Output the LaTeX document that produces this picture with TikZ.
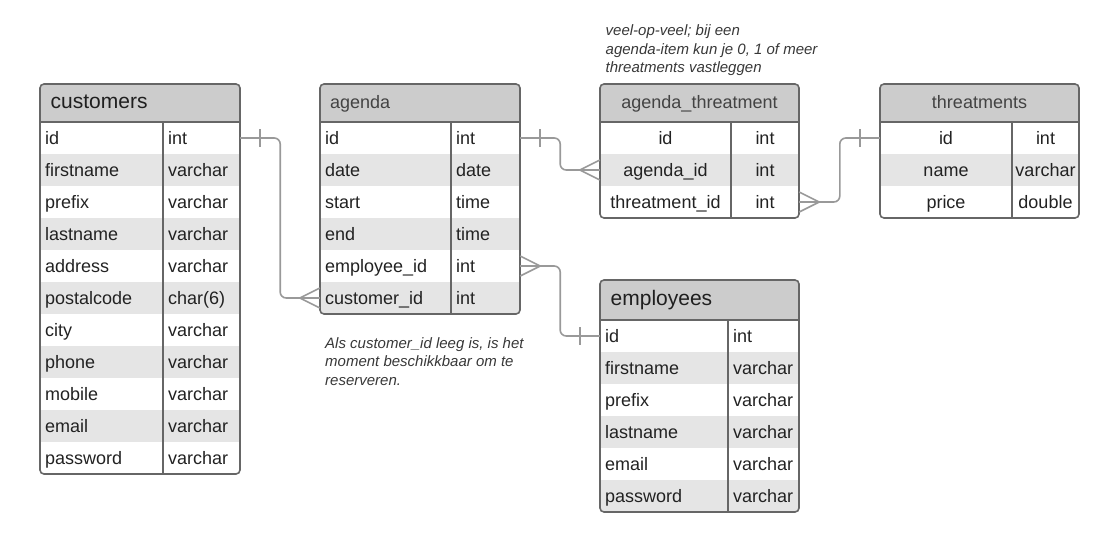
\documentclass[tikz,border=0pt]{standalone}
\usepackage{fontspec}
\setmainfont{Liberation Sans}
\usetikzlibrary{calc}
\definecolor{hdrgray}{HTML}{CCCCCC}
\definecolor{stripegray}{HTML}{E5E5E5}
\definecolor{bordergray}{HTML}{666666}
\definecolor{conngray}{HTML}{999999}
\definecolor{txt}{HTML}{222222}

% frame: #1 left #2 top #3 right #4 header bottom #5 nrows #6 divider x
\newcommand{\erframe}[6]{%
  \begin{scope}
    \clip[rounded corners=4pt] (#1,#2) rectangle (#3,{#4+32*#5});
    \fill[hdrgray] (#1,#2) rectangle (#3,#4);
    \foreach \k in {1,...,#5} {
      \ifodd\k\else
        \fill[stripegray] (#1,{#4+32*(\k-1)}) rectangle (#3,{#4+32*\k});
      \fi
    }
  \end{scope}
  \draw[tline] (#1,#4) -- (#3,#4);
  \draw[tline] (#6,#4) -- (#6,{#4+32*#5});
  \draw[tline, rounded corners=4pt] (#1,#2) rectangle (#3,{#4+32*#5});
}
% rows: #1 name #2 left #3 divider #4 right #5 header bottom #6 mode l/c #7 list
\newcommand{\errows}[7]{%
  \foreach \f/\t [count=\i] in {#7} {
    \pgfmathsetmacro\yy{#5+32*\i-16}
    \node[rowbox, minimum width={#4-#2}] (#1-\i) at ({(#2+#4)/2},\yy) {};
    \if#6l
      \node[cell, anchor=west] (#1-f\i) at ({#2+5},\yy) {\f};
      \node[cell, anchor=west] (#1-t\i) at ({#3+5},\yy) {\t};
    \else
      \node[cell] (#1-f\i) at ({(#2+#3)/2},\yy) {\f};
      \node[cell] (#1-t\i) at ({(#3+#4)/2},\yy) {\t};
    \fi
  }%
}

\begin{document}
\begin{tikzpicture}[x=1pt,y=-1pt,
  tline/.style={draw=bordergray, line width=1.6pt},
  conn/.style={draw=conngray, line width=1.6pt},
  rowbox/.style={inner sep=0pt, minimum height=32pt, draw=none},
  cell/.style={inner sep=0pt, text=txt, font=\fontsize{18}{21}\selectfont, text height=15pt, text depth=3pt},
  bighdr/.style={inner sep=0pt, anchor=west, text=black!88, font=\fontsize{21}{24}\selectfont, text height=15pt, text depth=5pt},
  smhdr/.style={inner sep=0pt, text=txt!85, font=\fontsize{18}{21}\selectfont, text height=14pt, text depth=4pt},
  note/.style={inner sep=0pt, anchor=north west, align=left, text=txt!90, font=\fontsize{15}{18.7}\selectfont\itshape}]
\useasboundingbox (0,0) rectangle (1120,552);

% customers
\erframe{40}{84}{240}{122}{11}{163}
\node[bighdr] (cust-h) at (50.5,103) {customers};
\errows{cust}{40}{163}{240}{122}{l}{id/int, firstname/varchar, prefix/varchar, lastname/varchar, address/varchar, postalcode/char(6), city/varchar, phone/varchar, mobile/varchar, email/varchar, password/varchar}

% agenda
\erframe{320}{84}{520}{122}{6}{451}
\node[smhdr, anchor=west] (ag-h) at (330,103) {agenda};
\errows{ag}{320}{451}{520}{122}{l}{id/int, date/date, start/time, end/time, employee\_id/int, customer\_id/int}

% agenda_threatment
\erframe{600}{84}{799}{122}{3}{731}
\node[smhdr] (at-h) at (699.5,103) {agenda\_threatment};
\errows{at}{600}{731}{799}{122}{c}{id/int, agenda\_id/int, threatment\_id/int}

% threatments
\erframe{880}{84}{1079}{122}{3}{1012}
\node[smhdr] (th-h) at (979.5,103) {threatments};
\errows{th}{880}{1012}{1079}{122}{c}{id/int, name/varchar, price/double}

% employees
\erframe{600}{280}{799}{320}{6}{728}
\node[bighdr] (emp-h) at (610.5,300) {employees};
\errows{emp}{600}{728}{799}{320}{l}{id/int, firstname/varchar, prefix/varchar, lastname/varchar, email/varchar, password/varchar}

% notes
\node[note] (note1) at (605.5,24.5) {veel-op-veel; bij een\\agenda-item kun je 0, 1 of meer\\threatments vastleggen};
\node[note] (note2) at (325,337) {Als customer\_id leeg is, is het\\moment beschikkbaar om te\\reserveren.};

% connector customers.id -> agenda.customer_id
\draw[conn, rounded corners=6pt] (cust-1.east) -- ++(40,0) |- (ag-6.west);
\draw[conn] ($(cust-1.east)+(20,-9)$) -- ($(cust-1.east)+(20,9)$);
\draw[conn] ($(ag-6.west)+(0,-10)$) -- ($(ag-6.west)+(-20,0)$) -- ($(ag-6.west)+(0,10)$);

% agenda.id -> agenda_threatment.agenda_id
\draw[conn, rounded corners=6pt] (ag-1.east) -- ++(40,0) |- (at-2.west);
\draw[conn] ($(ag-1.east)+(20,-9)$) -- ($(ag-1.east)+(20,9)$);
\draw[conn] ($(at-2.west)+(0,-10)$) -- ($(at-2.west)+(-20,0)$) -- ($(at-2.west)+(0,10)$);

% threatments.id -> agenda_threatment.threatment_id
\draw[conn, rounded corners=6pt] (th-1.west) -- ++(-40,0) |- (at-3.east);
\draw[conn] ($(th-1.west)+(-20,-9)$) -- ($(th-1.west)+(-20,9)$);
\draw[conn] ($(at-3.east)+(0,-10)$) -- ($(at-3.east)+(20,0)$) -- ($(at-3.east)+(0,10)$);

% employees.id -> agenda.employee_id
\draw[conn, rounded corners=6pt] (ag-5.east) -- ++(40,0) |- (emp-1.west);
\draw[conn] ($(ag-5.east)+(0,-10)$) -- ($(ag-5.east)+(20,0)$) -- ($(ag-5.east)+(0,10)$);
\draw[conn] ($(emp-1.west)+(-20,-9)$) -- ($(emp-1.west)+(-20,9)$);
\end{tikzpicture}
\end{document}
